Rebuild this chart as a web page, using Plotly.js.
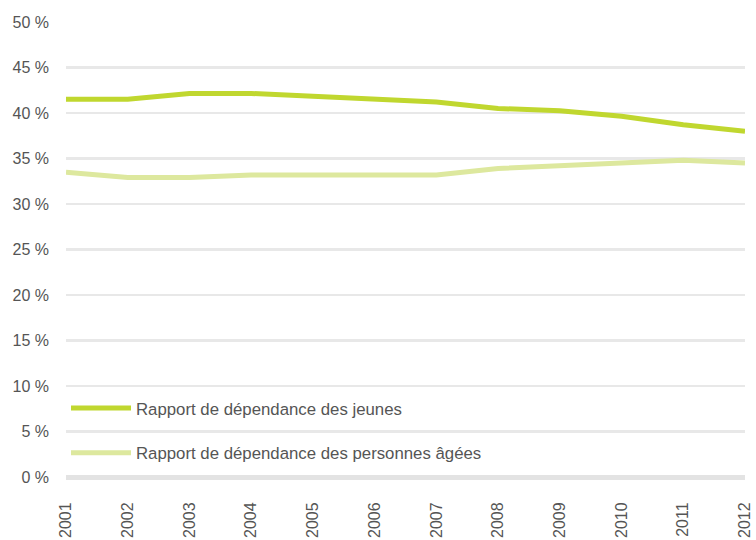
<!DOCTYPE html>
<html>
<head>
<meta charset="utf-8">
<script src="https://cdn.plot.ly/plotly-3.0.1.min.js"></script>
<style>html,body{margin:0;padding:0;background:#fff;}#chart{width:756px;height:540px;}</style>
</head>
<body>
<div id="chart"></div>
<script>
var years = ['2001','2002','2003','2004','2005','2006','2007','2008','2009','2010','2011','2012'];
var youngRatio = [41.5, 41.5, 42.15, 42.15, 41.85, 41.55, 41.2, 40.5, 40.25, 39.65, 38.7, 38.0];
var oldRatio = [33.5, 32.9, 32.9, 33.2, 33.2, 33.2, 33.2, 33.9, 34.2, 34.5, 34.8, 34.5];
var yTickVals = [0, 5, 10, 15, 20, 25, 30, 35, 40, 45, 50];
var yTickText = ['0 %', '5 %', '10 %', '15 %', '20 %', '25 %', '30 %', '35 %', '40 %', '45 %', '50 %'];
var seriesNames = ['Rapport de dépendance des jeunes', 'Rapport de dépendance des personnes âgées'];

var font = {family: 'Liberation Sans, Arial, sans-serif', size: 16, color: '#555555'};
var legendFont = {family: 'Liberation Sans, Arial, sans-serif', size: 16.8, color: '#555555'};

var traces = [
  {x: years, y: youngRatio, name: seriesNames[0], type: 'scatter', mode: 'lines',
   line: {color: '#c0d72f', width: 5}, legendgroup: 'a', hoverinfo: 'skip'},
  {x: years, y: oldRatio, name: seriesNames[1], type: 'scatter', mode: 'lines',
   line: {color: '#dde89e', width: 5}, legendgroup: 'b', hoverinfo: 'skip'}
];

var layout = {
  width: 756, height: 540,
  margin: {l: 66, r: 11, t: 22, b: 63},
  paper_bgcolor: '#ffffff', plot_bgcolor: '#ffffff',
  font: font,
  showlegend: true,
  legend: {x: 0.0, y: 0.102, xanchor: 'left', yanchor: 'middle', bgcolor: 'rgba(0,0,0,0)',
           traceorder: 'grouped', tracegroupgap: 20, itemwidth: 60, font: legendFont},
  xaxis: {type: 'category', range: [0, 11], showgrid: false, zeroline: false, showline: false,
          ticks: 'outside', ticklen: 18, tickcolor: 'rgba(0,0,0,0)', tickangle: -90,
          tickfont: font, automargin: false, fixedrange: true},
  yaxis: {range: [0, 50], tickvals: yTickVals, ticktext: yTickText, showgrid: true,
          gridcolor: '#e8e8e8', gridwidth: 2.5, zeroline: true, zerolinecolor: '#e3e3e3',
          zerolinewidth: 5, showline: false, ticks: '', tickfont: font, ticklabelstandoff: 16,
          automargin: false, fixedrange: true}
};

Plotly.newPlot('chart', traces, layout, {displayModeBar: false, staticPlot: true});
</script>
</body>
</html>
